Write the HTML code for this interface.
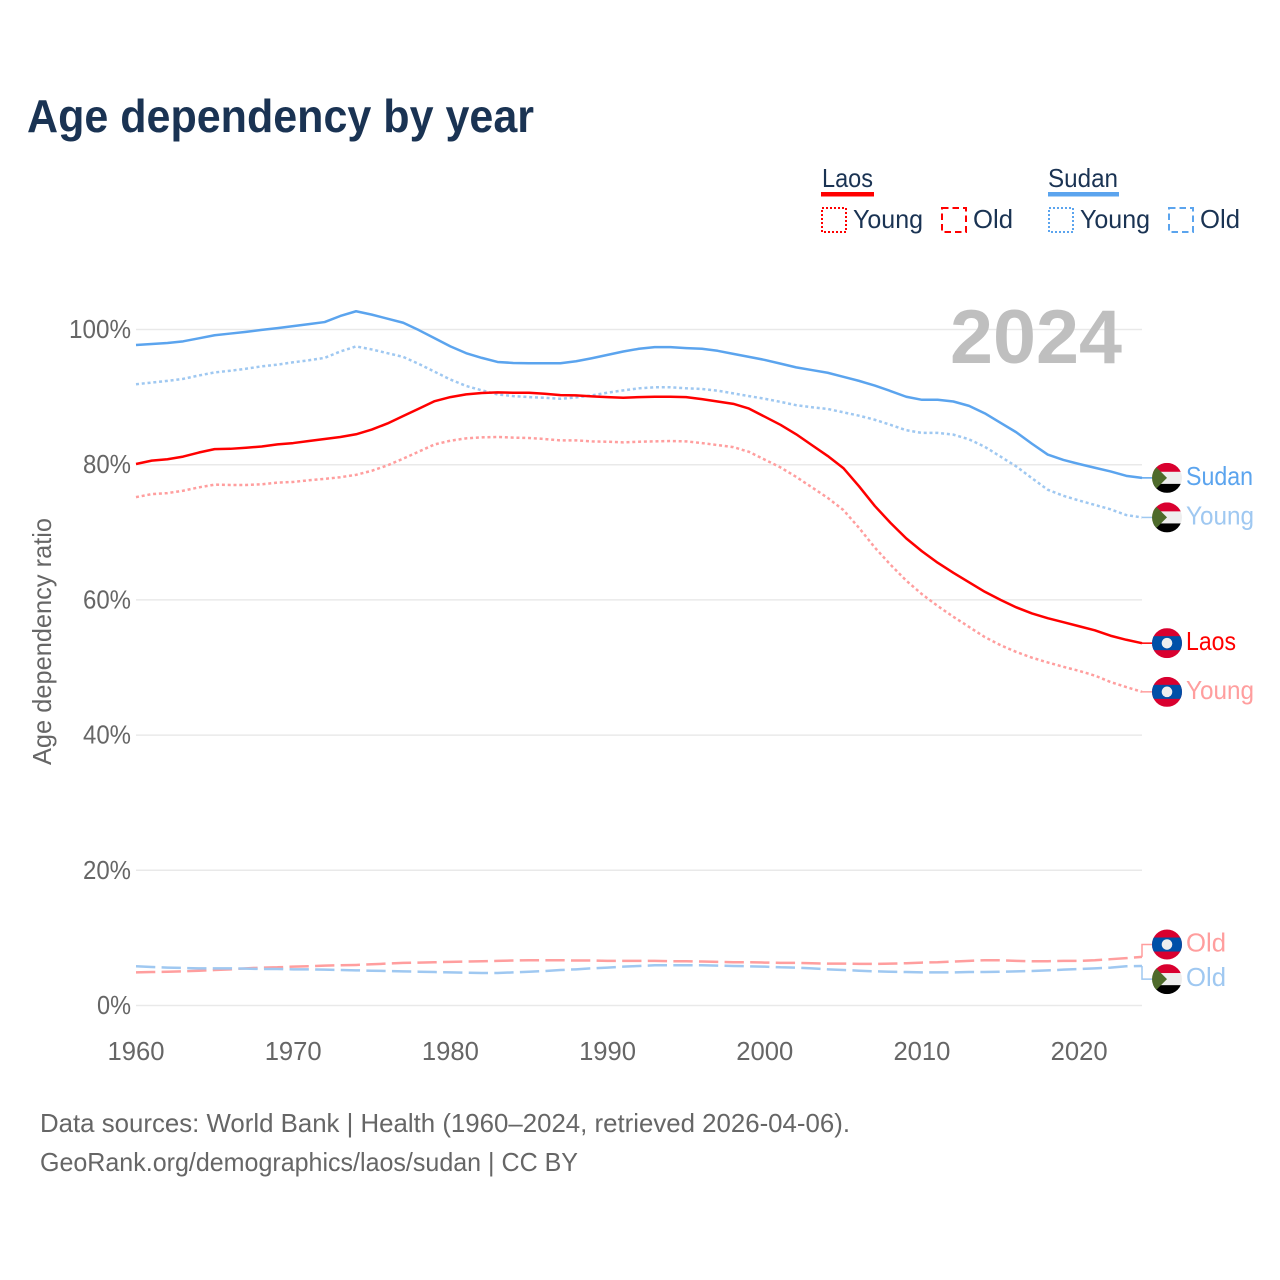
<!DOCTYPE html>
<html lang="en">
<head>
<meta charset="utf-8">
<title>Age dependency by year</title>
<style>
html,body{margin:0;padding:0;background:#fff;}
svg{display:block;}
text{font-family:"Liberation Sans",sans-serif;}
</style>
</head>
<body>
<svg id="chart" xmlns="http://www.w3.org/2000/svg" width="1280" height="1280" viewBox="0 0 1280 1280">
  <defs>
    <clipPath id="flag-clip"><circle cx="0" cy="0" r="15"/></clipPath>
    <g id="flag-sudan" clip-path="url(#flag-clip)">
      <rect x="-15" y="-15" width="30" height="9" fill="#d9002f"/>
      <rect x="-15" y="-6" width="30" height="12" fill="#eeeeee"/>
      <rect x="-15" y="6" width="30" height="9" fill="#000000"/>
      <polygon points="-15,-15 0,0 -15,15" fill="#4e6b2b"/>
    </g>
    <g id="flag-laos" clip-path="url(#flag-clip)">
      <rect x="-15" y="-15" width="30" height="30" fill="#d9002f"/>
      <rect x="-15" y="-7" width="30" height="14" fill="#0050a8"/>
      <circle cx="0" cy="0" r="5.3" fill="#eeeeee"/>
    </g>
  </defs>
  <rect x="0" y="0" width="1280" height="1280" fill="#ffffff"/>
  <text x="27" y="132" font-size="46" font-weight="700" fill="#1a3353" textLength="507" lengthAdjust="spacingAndGlyphs">Age dependency by year</text>

  <g id="grid"></g>
  <text x="950" y="363" font-size="76" font-weight="700" fill="#bfbfbf" textLength="172" lengthAdjust="spacingAndGlyphs">2024</text>
  <g id="series"></g>
  <g id="x-axis"></g>
  <g id="y-axis"></g>
  <g id="end-labels"></g>

  <text transform="translate(51,765) rotate(-90)" font-size="26" fill="#666666" textLength="247" lengthAdjust="spacingAndGlyphs">Age dependency ratio</text>

  <g fill="#1a3353" font-size="26">
    <g>
      <text x="822" y="187" textLength="51" lengthAdjust="spacingAndGlyphs">Laos</text>
      <rect x="821" y="192" width="53" height="4.5" fill="#ff0000"/>
      <rect x="822" y="208" width="24" height="24" fill="none" stroke="#ff0000" stroke-width="2" stroke-dasharray="2 2"/>
      <text x="853" y="228" textLength="70" lengthAdjust="spacingAndGlyphs">Young</text>
      <rect x="942" y="208" width="24" height="24" fill="none" stroke="#ff0000" stroke-width="2" stroke-dasharray="6.5 4"/>
      <text x="973" y="228" textLength="40" lengthAdjust="spacingAndGlyphs">Old</text>
    </g>
    <g>
      <text x="1048" y="187" textLength="70" lengthAdjust="spacingAndGlyphs">Sudan</text>
      <rect x="1048" y="192" width="71" height="4.5" fill="#5ba4ee"/>
      <rect x="1049" y="208" width="24" height="24" fill="none" stroke="#5ba4ee" stroke-width="2" stroke-dasharray="2 2"/>
      <text x="1080" y="228" textLength="70" lengthAdjust="spacingAndGlyphs">Young</text>
      <rect x="1169" y="208" width="24" height="24" fill="none" stroke="#5ba4ee" stroke-width="2" stroke-dasharray="6.5 4"/>
      <text x="1200" y="228" textLength="40" lengthAdjust="spacingAndGlyphs">Old</text>
    </g>
  </g>

  <text x="40" y="1132" font-size="26" fill="#666666" textLength="810" lengthAdjust="spacingAndGlyphs">Data sources: World Bank | Health (1960–2024, retrieved 2026-04-06).</text>
  <text x="40" y="1171" font-size="26" fill="#666666" textLength="538" lengthAdjust="spacingAndGlyphs">GeoRank.org/demographics/laos/sudan | CC BY</text>
</svg>
<script>
const startYear = 1960;
const endYear = 2024;
const xTicks = [1960, 1970, 1980, 1990, 2000, 2010, 2020];
const yTicks = [0, 20, 40, 60, 80, 100];

const sudanTotal = [97.7,97.85,98.0,98.25,98.7,99.15,99.4,99.65,99.95,100.2,100.5,100.8,101.1,102.0,102.7,102.2,101.6,101.0,99.9,98.7,97.5,96.5,95.8,95.2,95.05,95.0,95.0,95.0,95.3,95.75,96.25,96.75,97.15,97.4,97.4,97.25,97.15,96.85,96.4,95.95,95.5,94.95,94.4,94.0,93.6,93.0,92.4,91.7,90.9,90.05,89.6,89.6,89.35,88.7,87.6,86.2,84.8,83.1,81.5,80.7,80.1,79.55,79.0,78.35,78.05];
const sudanYoung = [91.9,92.15,92.4,92.7,93.2,93.65,93.9,94.2,94.55,94.8,95.15,95.45,95.8,96.75,97.5,97.05,96.5,95.95,94.9,93.75,92.6,91.65,91.0,90.4,90.15,90.0,89.9,89.75,89.95,90.25,90.65,91.0,91.3,91.45,91.45,91.3,91.2,90.95,90.55,90.15,89.75,89.3,88.8,88.5,88.25,87.75,87.25,86.65,85.9,85.1,84.7,84.7,84.45,83.75,82.65,81.2,79.75,78.0,76.3,75.4,74.7,74.05,73.4,72.55,72.2];
const sudanOld = [5.8,5.7,5.6,5.55,5.5,5.5,5.5,5.45,5.4,5.4,5.35,5.35,5.3,5.25,5.2,5.15,5.1,5.05,5.0,4.95,4.9,4.85,4.8,4.8,4.9,5.0,5.1,5.25,5.35,5.5,5.6,5.75,5.85,5.95,5.95,5.95,5.95,5.9,5.85,5.8,5.75,5.65,5.6,5.5,5.35,5.25,5.15,5.05,5.0,4.95,4.9,4.9,4.9,4.95,4.95,5.0,5.05,5.1,5.2,5.3,5.4,5.5,5.6,5.8,5.85];
const laosTotal = [80.1,80.6,80.8,81.2,81.8,82.3,82.35,82.5,82.7,83.0,83.2,83.5,83.8,84.1,84.5,85.2,86.1,87.2,88.3,89.4,90.0,90.4,90.6,90.7,90.65,90.65,90.5,90.3,90.25,90.1,90.0,89.9,90.0,90.05,90.05,90.0,89.7,89.35,89.0,88.3,87.1,85.9,84.5,82.9,81.3,79.5,76.8,73.9,71.4,69.1,67.2,65.5,64.0,62.6,61.2,60.0,58.9,58.0,57.3,56.7,56.1,55.5,54.7,54.1,53.6];
const laosYoung = [75.2,75.65,75.8,76.15,76.65,77.05,77.0,77.0,77.1,77.35,77.45,77.7,77.9,78.15,78.5,79.1,79.9,80.9,81.95,83.0,83.55,83.9,84.05,84.1,84.0,83.95,83.8,83.6,83.6,83.45,83.4,83.3,83.4,83.45,83.5,83.45,83.2,82.9,82.6,81.9,80.75,79.6,78.2,76.65,75.1,73.3,70.65,67.75,65.2,62.85,60.85,59.1,57.5,56.0,54.5,53.3,52.3,51.45,50.75,50.1,49.5,48.8,47.85,47.1,46.4];
const laosOld = [4.9,4.95,5.0,5.05,5.15,5.25,5.35,5.5,5.6,5.65,5.75,5.8,5.9,5.95,6.0,6.1,6.2,6.3,6.35,6.4,6.45,6.5,6.55,6.6,6.65,6.7,6.7,6.7,6.65,6.65,6.6,6.6,6.6,6.6,6.55,6.55,6.5,6.45,6.4,6.4,6.35,6.3,6.3,6.25,6.2,6.2,6.15,6.15,6.2,6.25,6.35,6.4,6.5,6.6,6.7,6.7,6.6,6.55,6.55,6.6,6.6,6.7,6.85,7.0,7.2];

const NS = 'http://www.w3.org/2000/svg';
function xScale(year) { return 136 + (year - startYear) * (1142 - 136) / (endYear - startYear); }
function yScale(v) { return 1005.5 - v * 6.76; }
function make(tag, attrs, parent) {
  const el = document.createElementNS(NS, tag);
  for (const k in attrs) el.setAttribute(k, attrs[k]);
  parent.appendChild(el);
  return el;
}

const gridG = document.getElementById('grid');
const yG = document.getElementById('y-axis');
yTicks.forEach(function (t) {
  const line = make('line', { x1: 136, x2: 1142, y1: yScale(t), y2: yScale(t), stroke: '#e9e9e9', 'stroke-width': 1.5 }, gridG);
  
  
  const label = t + '%';
  const lab = make('text', { x: 131, y: yScale(t) + 8.5, 'text-anchor': 'end', 'font-size': 26, fill: '#666666', textLength: String(t).length * 14 + 20, lengthAdjust: 'spacingAndGlyphs' }, yG);
  lab.textContent = label;
  
  
});

const xG = document.getElementById('x-axis');
xTicks.forEach(function (t) {
  const lab = make('text', { x: xScale(t), y: 1060, 'text-anchor': 'middle', 'font-size': 26, fill: '#666666', textLength: 57, lengthAdjust: 'spacingAndGlyphs' }, xG);
  lab.textContent = t;
  
  
});

const dotted = '3 2.8';
const dashed = '19.3 6.3';
const seriesList = [
  { id: 'laos-old', values: laosOld, color: '#ff9e9e', dash: dashed, w: 2.5, label: 'Old', flag: 'flag-laos', dodge: -12.3 },
  { id: 'sudan-old', values: sudanOld, color: '#9fc8f1', dash: dashed, w: 2.5, label: 'Old', flag: 'flag-sudan', dodge: 13.2 },
  { id: 'laos-young', values: laosYoung, color: '#ff9e9e', dash: dotted, w: 2.5, label: 'Young', flag: 'flag-laos', dodge: 0 },
  { id: 'sudan-young', values: sudanYoung, color: '#9fc8f1', dash: dotted, w: 2.5, label: 'Young', flag: 'flag-sudan', dodge: 0 },
  { id: 'laos-total', values: laosTotal, color: '#ff0000', dash: '', w: 2.5, label: 'Laos', flag: 'flag-laos', dodge: 0 },
  { id: 'sudan-total', values: sudanTotal, color: '#5ba4ee', dash: '', w: 2.5, label: 'Sudan', flag: 'flag-sudan', dodge: 0 }
];
const labelWidths = { Old: 40, Young: 68, Laos: 50, Sudan: 67 };

const seriesG = document.getElementById('series');
const endG = document.getElementById('end-labels');
seriesList.forEach(function (s) {
  const pts = s.values.map(function (v, i) { return xScale(startYear + i).toFixed(2) + ',' + yScale(v).toFixed(2); }).join(' ');
  const attrs = { points: pts, fill: 'none', stroke: s.color, 'stroke-width': s.w, 'stroke-linejoin': 'round' };
  if (s.dash) attrs['stroke-dasharray'] = s.dash;
  const line = make('polyline', attrs, seriesG);
  
  

  const last = s.values[s.values.length - 1];
  const yEnd = yScale(last);
  const yLabel = yEnd + s.dodge;
  const conn = make('polyline', { points: '1142,' + yEnd.toFixed(2) + ' 1142,' + yLabel.toFixed(2) + ' 1153,' + yLabel.toFixed(2), fill: 'none', stroke: s.color, 'stroke-width': 1.5 }, endG);
  
  

  const flag = make('use', { href: '#' + s.flag, transform: 'translate(1167,' + yLabel.toFixed(2) + ')' }, endG);
  
  

  const txt = make('text', { x: 1186, y: yLabel + 7, 'font-size': 26, fill: s.color, textLength: labelWidths[s.label], lengthAdjust: 'spacingAndGlyphs' }, endG);
  txt.textContent = s.label;
  
  
});
</script>
</body>
</html>
